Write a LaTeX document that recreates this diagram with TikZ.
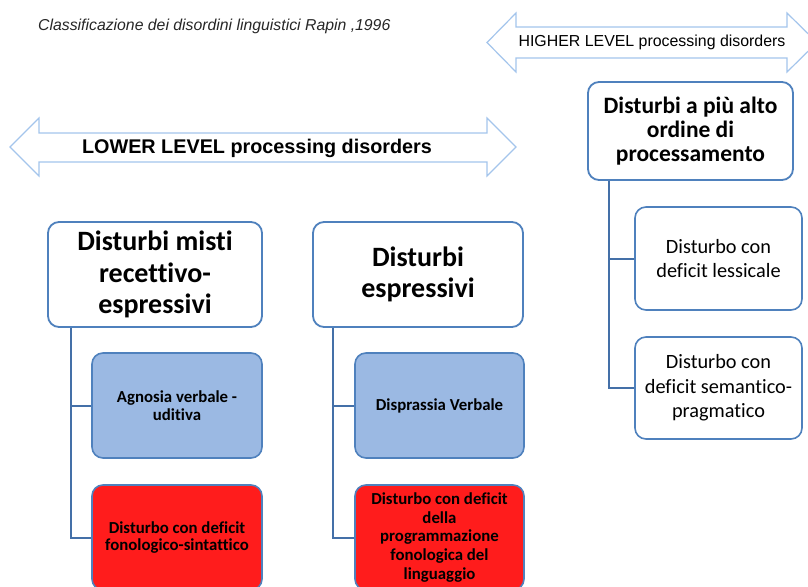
\documentclass[tikz,border=0pt]{standalone}
\usepackage{fontspec}
\setmainfont[Ligatures=NoCommon]{Carlito}
\newfontfamily\arialf{Liberation Sans}
\definecolor{boxblue}{HTML}{4F81BD}
\definecolor{linkblue}{HTML}{4470A8}
\definecolor{fillblue}{HTML}{9BB9E3}
\definecolor{fillred}{HTML}{FF1C1C}
\definecolor{arrowblue}{HTML}{A4C5EC}
\tikzset{
  mainbox/.style={draw=boxblue, line width=1.8pt, rounded corners=11pt, fill=white, align=center, inner sep=0pt},
  subbox/.style={draw=boxblue, line width=1.6pt, rounded corners=11pt, align=center, inner sep=0pt, font=\bfseries\fontsize{16.8}{17.5}\selectfont},
  bluebox/.style={subbox, fill=fillblue},
  redbox/.style={subbox, fill=fillred},
  whitebox/.style={draw=boxblue, line width=1.6pt, rounded corners=11pt, fill=white, align=center, inner sep=0pt, font=\fontsize{20.3}{24.5}\selectfont},
  link/.style={draw=linkblue, line width=2pt},
  bigarrow/.style={draw=arrowblue, line width=1.2pt, fill=white, line join=miter}
}
\begin{document}
\begin{tikzpicture}[x=1pt,y=-1pt]
\useasboundingbox (0,0) rectangle (808,586);
\clip (0,0) rectangle (808,586);
% title
\node[anchor=west, inner sep=0pt, font=\arialf\itshape\fontsize{15.8}{18}\selectfont, text=black!85] (title) at (38,26) {Classificazione dei disordini linguistici Rapin ,1996};
% higher arrow
\draw[bigarrow] (487,42.5) -- (516,13) -- (516,27) -- (787,27) -- (787,13) -- (817,42.5) -- (787,72) -- (787,58) -- (516,58) -- (516,72) -- cycle;
\node[font=\arialf\fontsize{15.9}{18}\selectfont, inner sep=0pt] (higher) at (652,42.5) {HIGHER LEVEL processing disorders};
% lower arrow
\draw[bigarrow] (10,147) -- (39,118) -- (39,133) -- (487,133) -- (487,118) -- (516,147) -- (487,176) -- (487,162) -- (39,162) -- (39,176) -- cycle;
\node[font=\arialf\bfseries\fontsize{19.8}{22}\selectfont, inner sep=0pt] (lower) at (257,148) {LOWER LEVEL processing disorders};
% main boxes
\node[mainbox, minimum width=214pt, minimum height=105pt, font=\bfseries\fontsize{28}{31.5}\selectfont] (m) at (155,274.5) {Disturbi misti\\recettivo-\\espressivi};
\node[mainbox, minimum width=210pt, minimum height=105pt, font=\bfseries\fontsize{28}{31}\selectfont] (e) at (418,274.5) {Disturbi\\espressivi};
\node[mainbox, minimum width=205pt, minimum height=98pt, font=\bfseries\fontsize{23.5}{24}\selectfont] (h) at (690.5,131) {Disturbi a più alto\\ordine di\\processamento};
% sub boxes left
\node[bluebox, minimum width=170pt, minimum height=105pt] (a) at (177,405.5) {Agnosia verbale -\\uditiva};
\node[redbox, minimum width=170pt, minimum height=105pt] (r1) at (177,537.5) {Disturbo con deficit\\fonologico-sintattico};
% sub boxes middle
\node[bluebox, minimum width=169pt, minimum height=105pt] (d) at (439.5,405.5) {Disprassia Verbale};
\node[redbox, minimum width=169pt, minimum height=105pt, font=\bfseries\fontsize{16.8}{18.7}\selectfont] (r2) at (439.5,537.5) {Disturbo con deficit\\della\\programmazione\\fonologica del\\linguaggio};
% right boxes
\node[whitebox, minimum width=167pt, minimum height=103pt] (l) at (718.5,258.5) {Disturbo con\\deficit lessicale};
\node[whitebox, minimum width=167pt, minimum height=102pt] (s) at (718.5,388) {Disturbo con\\deficit semantico-\\pragmatico};
% connectors
\draw[link] ([xshift=24pt]m.south west) |- (a.west);
\draw[link] ([xshift=24pt]m.south west) |- (r1.west);
\draw[link] ([xshift=21pt]e.south west) |- (d.west);
\draw[link] ([xshift=21pt]e.south west) |- (r2.west);
\draw[link] ([xshift=22pt]h.south west) |- (l.west);
\draw[link] ([xshift=22pt]h.south west) |- (s.west);
\end{tikzpicture}
\end{document}
